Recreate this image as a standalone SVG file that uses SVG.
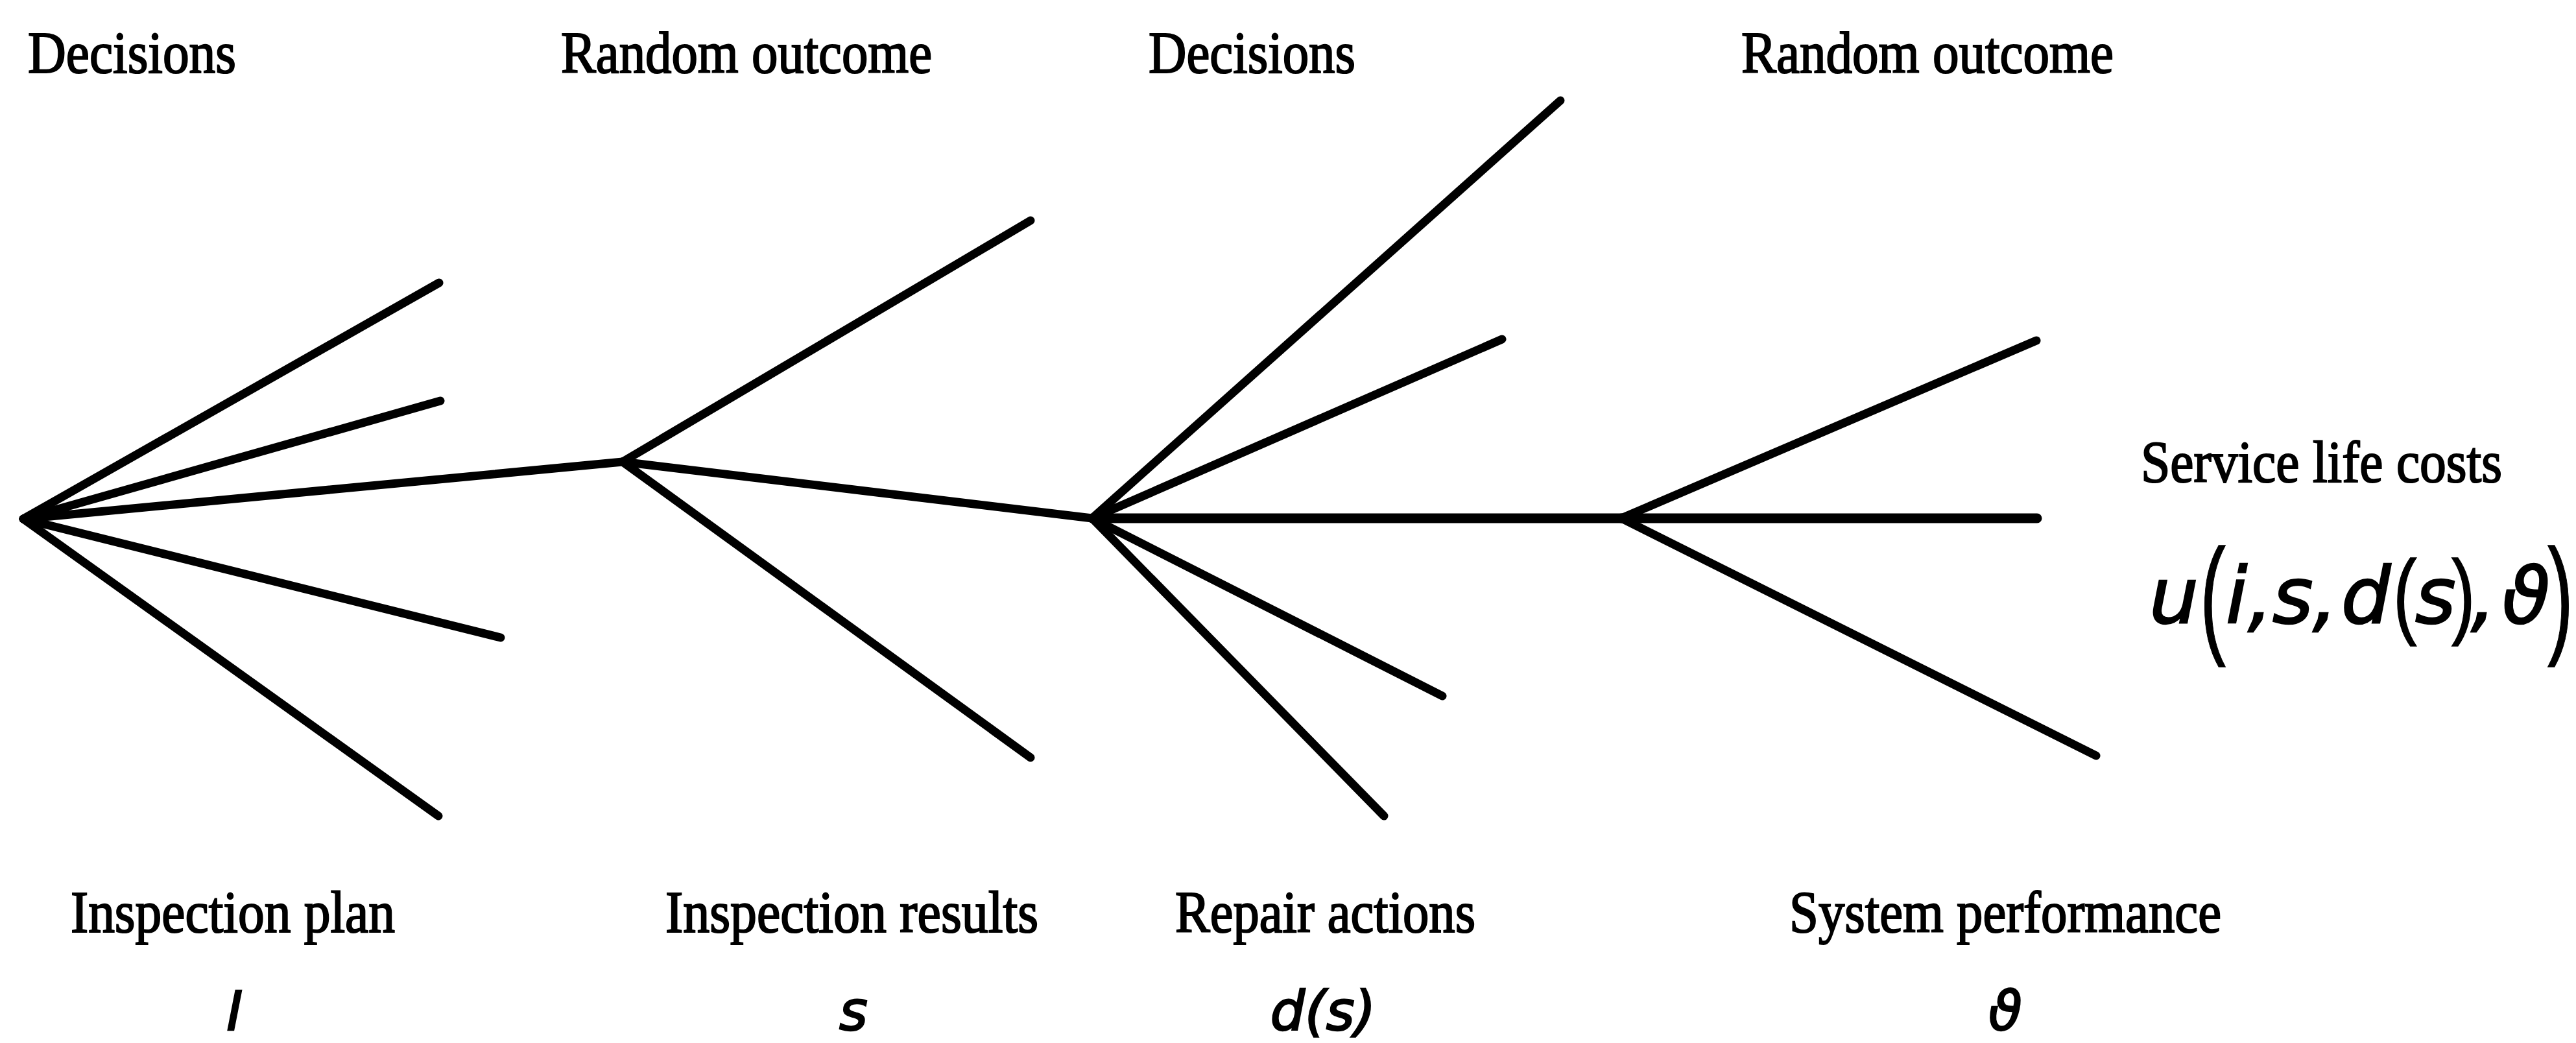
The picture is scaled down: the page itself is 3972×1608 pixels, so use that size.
<svg xmlns="http://www.w3.org/2000/svg" width="3972" height="1608" viewBox="0 0 3972 1608">
  <style>
    .lbl { font-family: "Liberation Serif", "Times New Roman", serif; font-size: 92px; fill: #000; stroke: #000; stroke-width: 2.2px; }
    .var { font-family: "DejaVu Sans", "Verdana", sans-serif; font-style: italic; fill: #000; stroke: #000; stroke-width: 2.5px; }
    .par { font-family: "Liberation Sans", "Arial", sans-serif; fill: #000; stroke: #000; stroke-width: 1.5px; }
    .edge { stroke: #000; stroke-width: 13; stroke-linecap: round; fill: none; }
    .edge.h { stroke-width: 15; }
  </style>
  <rect width="3972" height="1608" fill="#fff"/>

  <!-- tree branches -->
  <g id="connectors">
    <!-- first decision node: inspection plans -->
    <line class="edge" x1="36" y1="800" x2="677" y2="436"/>
    <line class="edge" x1="36" y1="800" x2="679" y2="618"/>
    <line class="edge" x1="36" y1="800" x2="960" y2="712"/>
    <line class="edge" x1="36" y1="800" x2="772" y2="983"/>
    <line class="edge" x1="36" y1="800" x2="676" y2="1258"/>
    <!-- chance node: inspection results -->
    <line class="edge" x1="960" y1="712" x2="1589" y2="340"/>
    <line class="edge" x1="960" y1="712" x2="1684" y2="799"/>
    <line class="edge" x1="960" y1="712" x2="1589" y2="1168"/>
    <!-- second decision node: repair actions -->
    <line class="edge" x1="1684" y1="799" x2="2406" y2="155"/>
    <line class="edge" x1="1684" y1="799" x2="2316" y2="523"/>
    <line class="edge h" x1="1684" y1="799" x2="2500" y2="799"/>
    <line class="edge" x1="1684" y1="799" x2="2224" y2="1073"/>
    <line class="edge" x1="1684" y1="799" x2="2134" y2="1258"/>
    <!-- chance node: system performance -->
    <line class="edge" x1="2500" y1="799" x2="3140" y2="525"/>
    <line class="edge h" x1="2500" y1="799" x2="3141" y2="799"/>
    <line class="edge" x1="2500" y1="799" x2="3232" y2="1165"/>
  </g>

  <g id="node-inspection-plan">
    <text class="lbl" x="43" y="112" textLength="321" lengthAdjust="spacingAndGlyphs">Decisions</text>
    <text class="lbl" x="109" y="1437" textLength="500" lengthAdjust="spacingAndGlyphs">Inspection plan</text>
    <text class="var" x="362" y="1588" font-size="84" text-anchor="middle">I</text>
  </g>

  <g id="node-inspection-results">
    <text class="lbl" x="865" y="112" textLength="572" lengthAdjust="spacingAndGlyphs">Random outcome</text>
    <text class="lbl" x="1026" y="1437" textLength="575" lengthAdjust="spacingAndGlyphs">Inspection results</text>
    <text class="var" x="1316" y="1588" font-size="84" text-anchor="middle">s</text>
  </g>

  <g id="node-repair-actions">
    <text class="lbl" x="1771" y="112" textLength="319" lengthAdjust="spacingAndGlyphs">Decisions</text>
    <text class="lbl" x="1812" y="1437" textLength="463" lengthAdjust="spacingAndGlyphs">Repair actions</text>
    <text class="var" x="2040" y="1588" font-size="84" text-anchor="middle">d(s)</text>
  </g>

  <g id="node-system-performance">
    <text class="lbl" x="2685" y="112" textLength="574" lengthAdjust="spacingAndGlyphs">Random outcome</text>
    <text class="lbl" x="2759" y="1437" textLength="666" lengthAdjust="spacingAndGlyphs">System performance</text>
    <text class="var" x="3092" y="1588" font-size="84" text-anchor="middle">ϑ</text>
  </g>

  <g id="node-service-life-costs">
    <text class="lbl" x="3301" y="743" textLength="557" lengthAdjust="spacingAndGlyphs">Service life costs</text>
    <!-- u(i, s, d(s), ϑ) with enlarged brackets -->
    <text class="var" x="3314" y="960" font-size="120">u</text>
    <text class="par" transform="translate(3392,986) scale(0.6,1)" font-size="200">(</text>
    <text class="var" x="3432" y="960" font-size="120">i</text>
    <text class="var" x="3466" y="960" font-size="120">,</text>
    <text class="var" x="3504" y="960" font-size="120">s</text>
    <text class="var" x="3566" y="960" font-size="120">,</text>
    <text class="var" x="3610" y="960" font-size="120">d</text>
    <text class="par" transform="translate(3690,966) scale(0.75,1)" font-size="146">(</text>
    <text class="var" x="3724" y="960" font-size="120">s</text>
    <text class="par" transform="translate(3780,966) scale(0.75,1)" font-size="146">)</text>
    <text class="var" x="3810" y="960" font-size="120">,</text>
    <text class="var" x="3858" y="960" font-size="120">ϑ</text>
    <text class="par" transform="translate(3928,986) scale(0.6,1)" font-size="200">)</text>
  </g>
</svg>
